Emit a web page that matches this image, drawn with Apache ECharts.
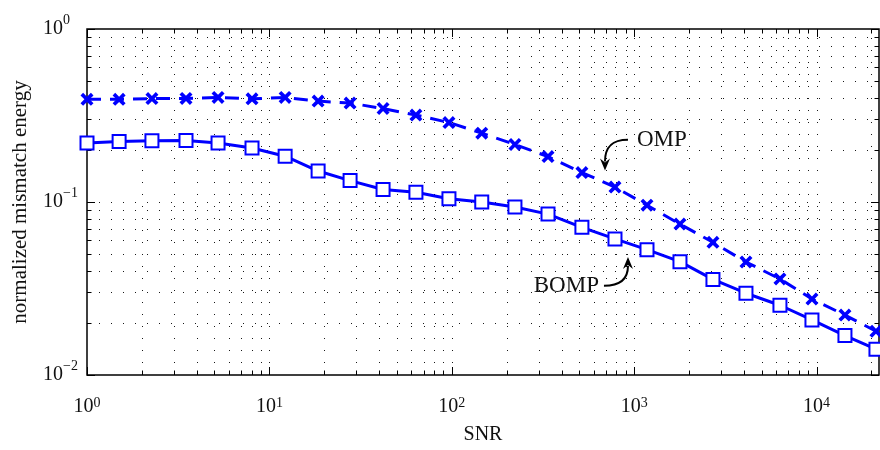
<!DOCTYPE html>
<html><head><meta charset="utf-8">
<script src="https://cdn.jsdelivr.net/npm/echarts@6/dist/echarts.min.js"></script>
<style>html,body{margin:0;padding:0;background:#fff}#c{width:880px;height:450px}</style>
</head><body><div id="c"></div>
<script>
// ---- data ----
const snr  = [1, 1.5, 2.27, 3.49, 5.23, 8.03, 12.2, 18.5, 27.7, 42.0, 63.6, 96.5, 146, 222, 337, 517, 785, 1176, 1783, 2704, 4102, 6300, 9437, 14313, 21170];
const omp  = [0.392, 0.392, 0.396, 0.397, 0.402, 0.395, 0.402, 0.383, 0.373, 0.347, 0.318, 0.288, 0.250, 0.215, 0.183, 0.148, 0.122, 0.0958, 0.0745, 0.0585, 0.045, 0.0359, 0.0275, 0.0222, 0.0179];
const bomp = [0.219, 0.224, 0.226, 0.227, 0.219, 0.205, 0.184, 0.151, 0.133, 0.118, 0.114, 0.1045, 0.100, 0.0935, 0.0851, 0.0714, 0.0612, 0.053, 0.0452, 0.0357, 0.0297, 0.0253, 0.0208, 0.0169, 0.0141];
const seriesNames = ['OMP', 'BOMP'];
const xMajorTicks = [1, 10, 100, 1000, 10000];
const yMajorTicks = [0.01, 0.1, 1];
const minorMultipliers = [2, 3, 4, 5, 6, 7, 8, 9];
const xRange = [1, 22000];
const yRange = [0.01, 1];
const xName = 'SNR';
const yName = 'normalized mismatch energy';
// annotation anchors in data space: [text anchor, arrow start, arrow tip]
const ompNote  = {text: 'OMP',  at: [1036, 0.228],  from: [925, 0.229],  to: [692, 0.152]};
const bompNote = {text: 'BOMP', at: [641, 0.0325],  from: [683, 0.0328], to: [925, 0.0481]};

const FONT = '"Liberation Serif", "Times New Roman", serif';
const BLUE = '#0000ff';

function expLabel(v) {
  const e = Math.round(Math.log10(v));
  if (Math.abs(v - Math.pow(10, e)) > 1e-6 * Math.pow(10, e)) return '';
  const style = e < 0 ? 'sn' : 'sp';
  return '{b|10}{' + style + '|' + String(e).replace('-', '\u2212') + '}';
}

const chart = echarts.init(document.getElementById('c'), null, {renderer: 'canvas'});

function allTicks(majors, range) {
  const out = [];
  majors.forEach(function (m) {
    out.push({v: m, major: true});
    minorMultipliers.forEach(function (k) {
      const v = m * k;
      if (v < range[1] * 1.0000001) out.push({v: v, major: false});
    });
  });
  return out.filter(function (t) { return t.v >= range[0] && t.v <= range[1] * 1.0000001; });
}

const xTicks = allTicks(xMajorTicks, xRange);
const yTicks = allTicks(yMajorTicks, yRange);

const supX = {fontFamily: FONT, fontSize: 14, lineHeight: 12, verticalAlign: 'top', color: '#111'};
const option = {
  animation: false,
  backgroundColor: '#fff',
  grid: {left: 87, right: 1, top: 29, bottom: 69, show: true, borderColor: '#000', borderWidth: 1.5, backgroundColor: 'transparent'},
  xAxis: {
    type: 'log', logBase: 10, min: xRange[0], max: xRange[1],
    name: xName, nameLocation: 'middle', nameGap: 50,
    nameTextStyle: {fontFamily: FONT, fontSize: 20, color: '#111'},
    axisLine: {show: false}, axisTick: {show: false}, splitLine: {show: false},
    axisLabel: {
      margin: 21, showMaxLabel: false, color: '#111', formatter: expLabel,
      rich: {
        b: {fontFamily: FONT, fontSize: 20, lineHeight: 22, verticalAlign: 'middle', color: '#111'},
        sn: supX, sp: supX
      }
    }
  },
  yAxis: {
    type: 'log', logBase: 10, min: yRange[0], max: yRange[1],
    name: yName, nameLocation: 'middle', nameGap: 56,
    nameTextStyle: {fontFamily: FONT, fontSize: 21, color: '#111'},
    axisLine: {show: false}, axisTick: {show: false}, splitLine: {show: false},
    axisLabel: {
      margin: 9, color: '#111', formatter: expLabel,
      rich: {
        b: {fontFamily: FONT, fontSize: 20, lineHeight: 32, verticalAlign: 'middle', color: '#111'},
        sn: {fontFamily: FONT, fontSize: 14, lineHeight: 12, verticalAlign: 'top', color: '#111'},
        sp: {fontFamily: FONT, fontSize: 14, lineHeight: 12, verticalAlign: 'top', color: '#111', padding: [0, 8, 0, 0]}
      }
    }
  },
  series: [
    {
      type: 'custom', silent: true, z: 1, clip: false,
      data: [[xRange[0], yRange[0]]],
      renderItem: function (params, api) {
        const bl = api.coord([xRange[0], yRange[0]]);
        const tr = api.coord([xRange[1], yRange[1]]);
        const left = bl[0], bottom = bl[1], right = tr[0], top = tr[1];
        const ch = [];
        const dot = {stroke: '#000', lineWidth: 1, lineDash: [1, 11], opacity: 0.9};
        const tk = {stroke: '#000', lineWidth: 1};
        xTicks.forEach(function (t) {
          const x = Math.round(api.coord([t.v, yRange[0]])[0]) + 0.5;
          const len = t.major ? 8 : 4.5;
          if (x > left + 1 && x < right - 1) {
            ch.push({type: 'line', shape: {x1: x, y1: bottom, x2: x, y2: top}, style: dot});
          }
          ch.push({type: 'line', shape: {x1: x, y1: bottom, x2: x, y2: bottom - len}, style: tk});
          ch.push({type: 'line', shape: {x1: x, y1: top, x2: x, y2: top + len}, style: tk});
        });
        yTicks.forEach(function (t) {
          const y = Math.round(api.coord([xRange[0], t.v])[1]) + 0.5;
          const len = t.major ? 8 : 4.5;
          if (y > top + 1 && y < bottom - 1) {
            ch.push({type: 'line', shape: {x1: left, y1: y, x2: right, y2: y}, style: dot});
          }
          ch.push({type: 'line', shape: {x1: left, y1: y, x2: left + len, y2: y}, style: tk});
          ch.push({type: 'line', shape: {x1: right, y1: y, x2: right - len, y2: y}, style: tk});
        });
        return {type: 'group', children: ch};
      }
    },
    {
      name: seriesNames[0], type: 'line', z: 3,
      data: snr.map(function (x, i) { return [x, omp[i]]; }),
      symbol: 'path://M2,0 L5,3 L8,0 L10,2 L7,5 L10,8 L8,10 L5,7 L2,10 L0,8 L3,5 L0,2 Z',
      symbolSize: 13, showAllSymbol: true,
      itemStyle: {color: BLUE},
      lineStyle: {color: BLUE, width: 3, type: [14, 9]}
    },
    {
      name: seriesNames[1], type: 'line', z: 4,
      data: snr.map(function (x, i) { return [x, bomp[i]]; }),
      symbol: 'emptyRect', symbolSize: 13, showAllSymbol: true,
      itemStyle: {color: BLUE, borderColor: BLUE, borderWidth: 2.6},
      lineStyle: {color: BLUE, width: 3}
    }
  ]
};
chart.setOption(option);

function P(pt) { return chart.convertToPixel({gridIndex: 0}, pt); }
function noteGraphics(note, dir) {
  const t = P(note.at), s = P(note.from), e = P(note.to);
  const g = [];
  g.push({type: 'text', x: t[0], y: t[1], z: 10,
    style: {text: note.text, fontFamily: FONT, fontSize: 23, fill: '#111',
      align: dir === 'down' ? 'left' : 'right', verticalAlign: 'middle'}});
  const headLen = 12, hw = 5;
  if (dir === 'down') {
    const endY = e[1] - headLen + 3;
    g.push({type: 'bezierCurve', z: 10,
      shape: {x1: s[0], y1: s[1], x2: e[0], y2: endY, cpx1: e[0] + 6, cpy1: s[1], cpx2: e[0], cpy2: s[1] + 8},
      style: {stroke: '#000', lineWidth: 2, fill: null}});
    g.push({type: 'polygon', z: 10,
      shape: {points: [[e[0], e[1]], [e[0] - hw, e[1] - headLen], [e[0], e[1] - headLen + 4], [e[0] + hw, e[1] - headLen]]},
      style: {fill: '#000'}});
  } else {
    const endY = e[1] + headLen - 3;
    g.push({type: 'bezierCurve', z: 10,
      shape: {x1: s[0], y1: s[1], x2: e[0], y2: endY, cpx1: e[0] - 6, cpy1: s[1], cpx2: e[0], cpy2: s[1] - 8},
      style: {stroke: '#000', lineWidth: 2, fill: null}});
    g.push({type: 'polygon', z: 10,
      shape: {points: [[e[0], e[1]], [e[0] - hw, e[1] + headLen], [e[0], e[1] + headLen - 4], [e[0] + hw, e[1] + headLen]]},
      style: {fill: '#000'}});
  }
  return g;
}
chart.setOption({graphic: noteGraphics(ompNote, 'down').concat(noteGraphics(bompNote, 'up'))});
</script>
</body></html>
